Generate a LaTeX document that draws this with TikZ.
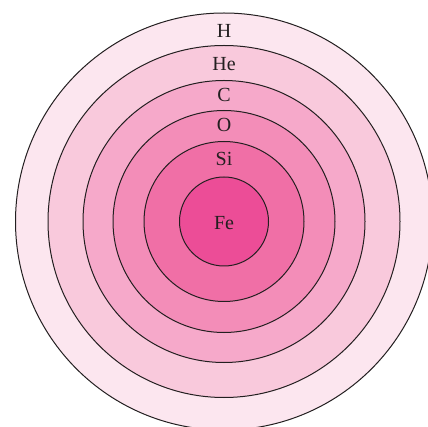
\documentclass[tikz,border=0pt]{standalone}
\usepackage{fontspec}
\setmainfont{Liberation Serif}
\definecolor{cH}{HTML}{FCE6EF}
\definecolor{cHe}{HTML}{F9C9DC}
\definecolor{cC}{HTML}{F6A9CA}
\definecolor{cO}{HTML}{F38DB8}
\definecolor{cSi}{HTML}{F06FA6}
\definecolor{cFe}{HTML}{EC4D97}
\definecolor{ink}{HTML}{231F20}
\begin{document}
\begin{tikzpicture}[x=1pt,y=-1pt,
  ring/.style={draw=ink, line width=1pt},
  lbl/.style={font=\fontsize{20}{20}\selectfont, text=ink, inner sep=0pt, anchor=base}]
\useasboundingbox (0,0) rectangle (428,427);
\clip (0,0) rectangle (428,427);
\coordinate (c) at (224,221.5);
\filldraw[ring, fill=cH]  (c) circle[radius=208.5pt];
\filldraw[ring, fill=cHe] (c) circle[radius=176pt];
\filldraw[ring, fill=cC]  (c) circle[radius=141pt];
\filldraw[ring, fill=cO]  (c) circle[radius=111pt];
\filldraw[ring, fill=cSi] (c) circle[radius=80pt];
\filldraw[ring, fill=cFe] (c) circle[radius=44.5pt];
\node[lbl] (lH)  at (224,37.3) {H};
\node[lbl] (lHe) at (224,70.7) {He};
\node[lbl] (lC)  at (224,101.5) {C};
\node[lbl] (lO)  at (224,131.5) {O};
\node[lbl] (lSi) at (224,165.7) {Si};
\node[lbl] (lFe) at (224,229.3) {Fe};
\end{tikzpicture}
\end{document}
